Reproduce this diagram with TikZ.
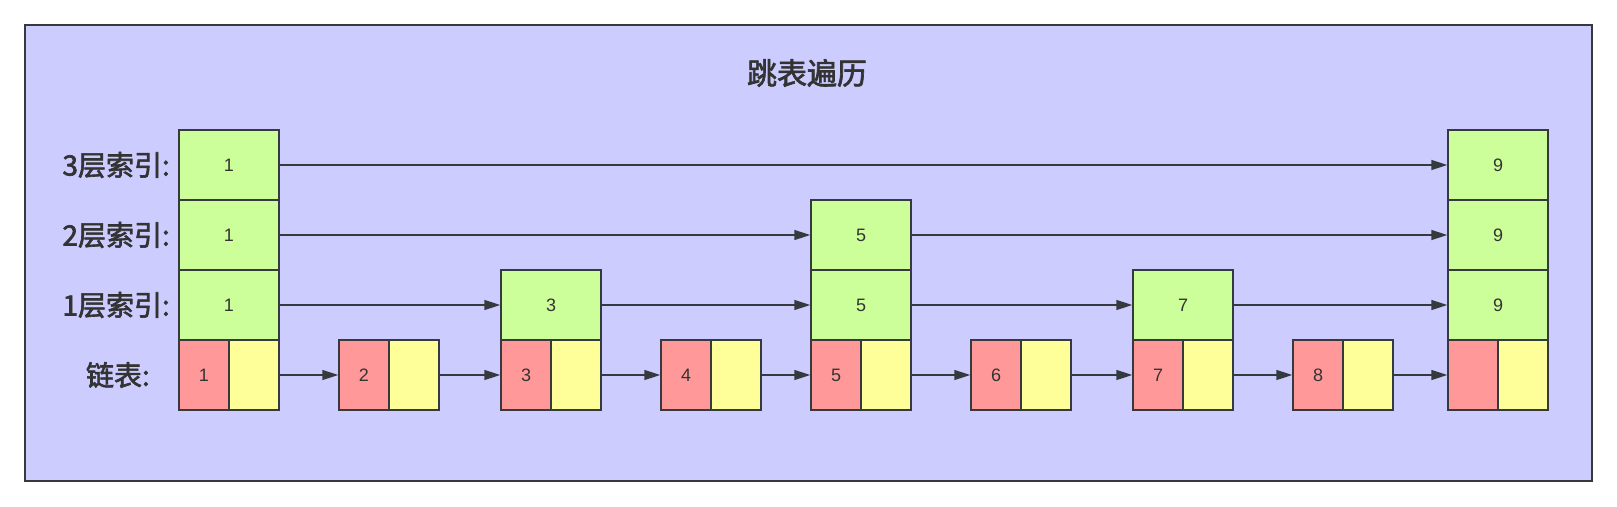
\documentclass[tikz,border=0pt]{standalone}
\usepackage{fontspec}
\setmainfont{Liberation Sans}
\newfontfamily\cjk{Noto Sans CJK SC}[FakeBold=2.2]
\usetikzlibrary{arrows.meta}
\definecolor{bg}{HTML}{CCCCFF}
\definecolor{gr}{HTML}{CCFF99}
\definecolor{rd}{HTML}{FF9999}
\definecolor{yl}{HTML}{FFFF99}
\definecolor{strk}{HTML}{36393D}
\definecolor{txt}{HTML}{333333}
\begin{document}
\begin{tikzpicture}[x=1pt,y=-1pt,
  box/.style={draw=strk, line width=1.5pt, inner sep=0pt, minimum height=70pt, font=\fontsize{18}{18}\selectfont, text=txt},
  gbox/.style={box, fill=gr, minimum width=100pt},
  rbox/.style={box, fill=rd, minimum width=50pt},
  ybox/.style={box, fill=yl, minimum width=50pt},
  lab/.style={font=\cjk\fontsize{28}{28}\selectfont, text=txt, anchor=east, inner sep=0pt},
  arr/.style={draw=strk, line width=1.5pt, -{Triangle[length=16pt,width=10pt]}}
]
\useasboundingbox (0,0) rectangle (1617,506);
\node[draw=strk, fill=bg, line width=2pt, minimum width=1567pt, minimum height=456pt, inner sep=0pt] (frame) at (808.5,253) {};
\node[font=\cjk\fontsize{30}{30}\selectfont, text=txt] (title) at (807,73) {跳表遍历};
% labels
\node[lab] (l3) at (170,165) {3层索引:};
\node[lab] (l2) at (170,235) {2层索引:};
\node[lab] (l1) at (170,305) {1层索引:};
\node[lab] (l0) at (150,375) {链表:};
% list nodes
\node[rbox] (r1) at (204,375) {1}; \node[ybox] (y1) at (254,375) {};
\node[rbox] (r2) at (364,375) {2}; \node[ybox] (y2) at (414,375) {};
\node[rbox] (r3) at (526,375) {3}; \node[ybox] (y3) at (576,375) {};
\node[rbox] (r4) at (686,375) {4}; \node[ybox] (y4) at (736,375) {};
\node[rbox] (r5) at (836,375) {5}; \node[ybox] (y5) at (886,375) {};
\node[rbox] (r6) at (996,375) {6}; \node[ybox] (y6) at (1046,375) {};
\node[rbox] (r7) at (1158,375) {7}; \node[ybox] (y7) at (1208,375) {};
\node[rbox] (r8) at (1318,375) {8}; \node[ybox] (y8) at (1368,375) {};
\node[rbox] (r9) at (1473,375) {}; \node[ybox] (y9) at (1523,375) {};
% index nodes
\node[gbox] (g1a) at (229,305) {1};
\node[gbox] (g1b) at (229,235) {1};
\node[gbox] (g1c) at (229,165) {1};
\node[gbox] (g3a) at (551,305) {3};
\node[gbox] (g5a) at (861,305) {5};
\node[gbox] (g5b) at (861,235) {5};
\node[gbox] (g7a) at (1183,305) {7};
\node[gbox] (g9a) at (1498,305) {9};
\node[gbox] (g9b) at (1498,235) {9};
\node[gbox] (g9c) at (1498,165) {9};
% list arrows
\draw[arr] (y1) -- (r2);
\draw[arr] (y2) -- (r3);
\draw[arr] (y3) -- (r4);
\draw[arr] (y4) -- (r5);
\draw[arr] (y5) -- (r6);
\draw[arr] (y6) -- (r7);
\draw[arr] (y7) -- (r8);
\draw[arr] (y8) -- (r9);
% level 1
\draw[arr] (g1a) -- (g3a);
\draw[arr] (g3a) -- (g5a);
\draw[arr] (g5a) -- (g7a);
\draw[arr] (g7a) -- (g9a);
% level 2
\draw[arr] (g1b) -- (g5b);
\draw[arr] (g5b) -- (g9b);
% level 3
\draw[arr] (g1c) -- (g9c);
\end{tikzpicture}
\end{document}
